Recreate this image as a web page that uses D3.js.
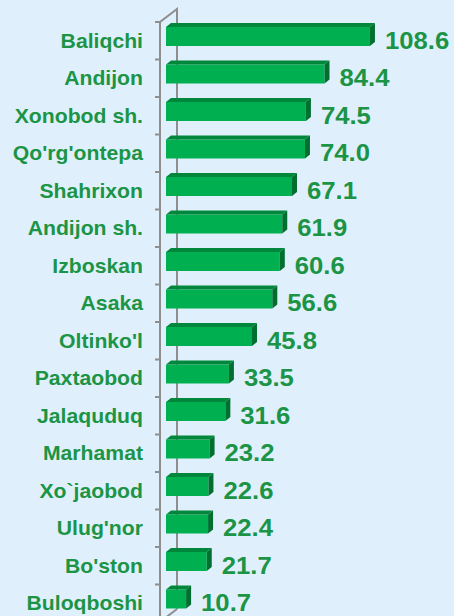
<!DOCTYPE html>
<html>
<head>
<meta charset="utf-8">
<script src="https://cdn.jsdelivr.net/npm/d3@7"></script>
<style>
body { margin:0; background:#dff0fc; }
svg { display:block; }
</style>
</head>
<body>
<svg width="454" height="616"></svg>
<script>
var districts = ["Baliqchi","Andijon","Xonobod sh.","Qo'rg'ontepa","Shahrixon","Andijon sh.","Izboskan","Asaka","Oltinko'l","Paxtaobod","Jalaquduq","Marhamat","Xo`jaobod","Ulug'nor","Bo'ston","Buloqboshi"];
var values = [108.6,84.4,74.5,74.0,67.1,61.9,60.6,56.6,45.8,33.5,31.6,23.2,22.6,22.4,21.7,10.7];

var svg = d3.select("svg"),
    width = +svg.attr("width"),
    height = +svg.attr("height");

svg.append("rect").attr("width", width).attr("height", height).attr("fill", "#dff0fc");

var green = "#1c9446";
var dx = 5, dy = 4;   // bar depth
var ax = 160, bx = 177, by = 13; // front axis x, back wall offset

var y = d3.scaleBand().domain(districts).range([22, 622]).padding(0);
var x = d3.scaleLinear().domain([0, 100]).range([166, 353.8]);

// axis walls
var axis = svg.append("g").attr("stroke", "#8e8e8e").attr("stroke-width", 2).attr("fill", "none");
axis.append("path").attr("d", "M" + ax + "," + 622 + "V22L" + bx + "," + (22 - by) + "V" + (622 - by));
axis.append("line").attr("x1", ax).attr("y1", 622).attr("x2", bx).attr("y2", 622 - by);
var ticks = d3.range(districts.length + 1).map(function(i){ return 22 + y.step() * i; });
axis.selectAll(".tick").data(ticks).enter().append("line")
    .attr("x1", ax - 5).attr("x2", ax)
    .attr("y1", function(d){ return d; }).attr("y2", function(d){ return d; });

var bars = svg.selectAll(".bar").data(districts).enter().append("g").attr("class", "bar");

function top_(d, i){ return y(d) + 5; }
bars.append("rect")
    .attr("x", x(0))
    .attr("y", top_)
    .attr("width", function(d, i){ return x(values[i]) - x(0); })
    .attr("height", 19)
    .attr("fill", "#00b050");
bars.append("path")
    .attr("fill", "#00873b")
    .attr("d", function(d, i){
        var x0 = x(0), x1 = x(values[i]), t = top_(d, i);
        return "M" + x0 + "," + t + "L" + (x0 + dx) + "," + (t - dy) + "L" + (x1 + dx) + "," + (t - dy) + "L" + x1 + "," + t + "Z";
    });
bars.append("path")
    .attr("fill", "#006f30")
    .attr("d", function(d, i){
        var x1 = x(values[i]), t = top_(d, i);
        return "M" + x1 + "," + t + "L" + (x1 + dx) + "," + (t - dy) + "L" + (x1 + dx) + "," + (t + 19 - dy) + "L" + x1 + "," + (t + 19) + "Z";
    });

// category labels (slightly wide, as in the original)
svg.selectAll(".lab").data(districts).enter().append("text")
    .attr("transform", function(d){ return "translate(143," + (y(d) + y.bandwidth() / 2 + 7) + ") scale(1.06,1)"; })
    .attr("text-anchor", "end")
    .attr("font-family", "'Liberation Sans', Arial, sans-serif")
    .attr("font-weight", "bold")
    .attr("font-size", 20)
    .attr("fill", green)
    .text(function(d){ return d; });

// value labels
svg.selectAll(".val").data(districts).enter().append("text")
    .attr("transform", function(d, i){ return "translate(" + (x(values[i]) + dx + 10) + "," + (y(d) + y.bandwidth() / 2 + 8) + ") scale(1.07,1)"; })
    .attr("font-family", "'Liberation Sans', Arial, sans-serif")
    .attr("font-weight", "bold")
    .attr("font-size", 24)
    .attr("fill", green)
    .text(function(d, i){ return values[i].toFixed(1); });
</script>
</body>
</html>
